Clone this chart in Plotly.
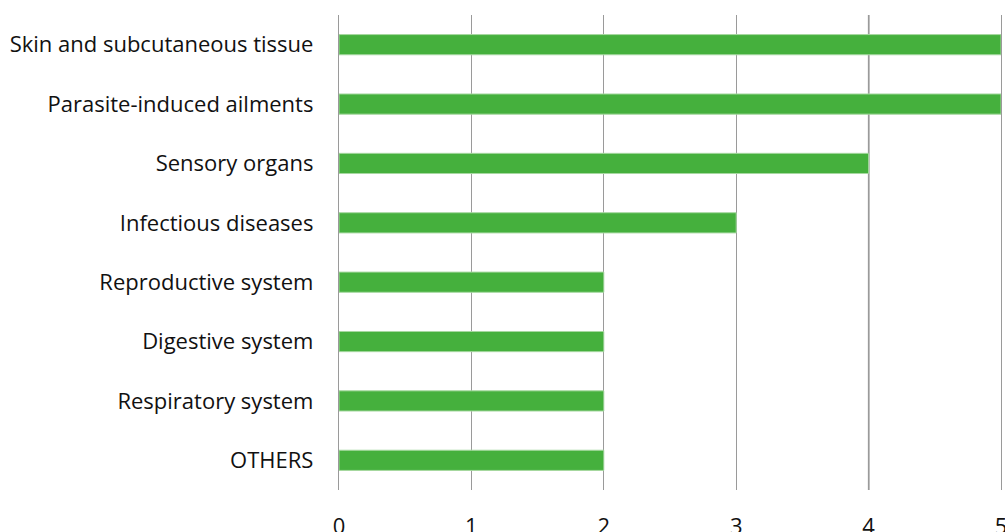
import plotly.graph_objects as go

categories = ["Skin and subcutaneous tissue", "Parasite-induced ailments", "Sensory organs",
              "Infectious diseases", "Reproductive system", "Digestive system",
              "Respiratory system", "OTHERS"]
values = [5, 5, 4, 3, 2, 2, 2, 2]
x_ticks = [0, 1, 2, 3, 4, 5]
highlight_grid = 4

fig = go.Figure(go.Bar(
    x=values, y=categories, orientation="h",
    marker=dict(color="#45b03d", line=dict(color="#a6d8a0", width=1)),
    width=0.34,
))

fig.add_shape(type="line", xref="x", yref="paper", x0=highlight_grid, x1=highlight_grid,
              y0=0, y1=1, line=dict(color="#000000", width=1.3), layer="between")

fig.update_layout(
    width=1005, height=532,
    margin=dict(l=339, r=4, t=15, b=42, autoexpand=False),
    paper_bgcolor="white", plot_bgcolor="white",
    font=dict(family="Open Sans", size=22, color="#111111"),
    showlegend=False,
    xaxis=dict(range=[0, 5], tickvals=x_ticks, showgrid=True, gridcolor="#9a9a9a",
               gridwidth=1.3, zeroline=False, automargin=False,
               showline=False, ticks="", ticklabelstandoff=21, ticklabeloverflow="allow"),
    yaxis=dict(categoryorder="array", categoryarray=categories[::-1],
               showgrid=False, zeroline=False, showline=True, mirror=True,
               linecolor="#9a9a9a", linewidth=1.3, automargin=False, ticks="",
               ticklabelstandoff=20),
)

fig.write_html("out.html", config={"displayModeBar": False},
               post_script="document.body.style.margin='0';document.body.style.overflow='hidden';")
